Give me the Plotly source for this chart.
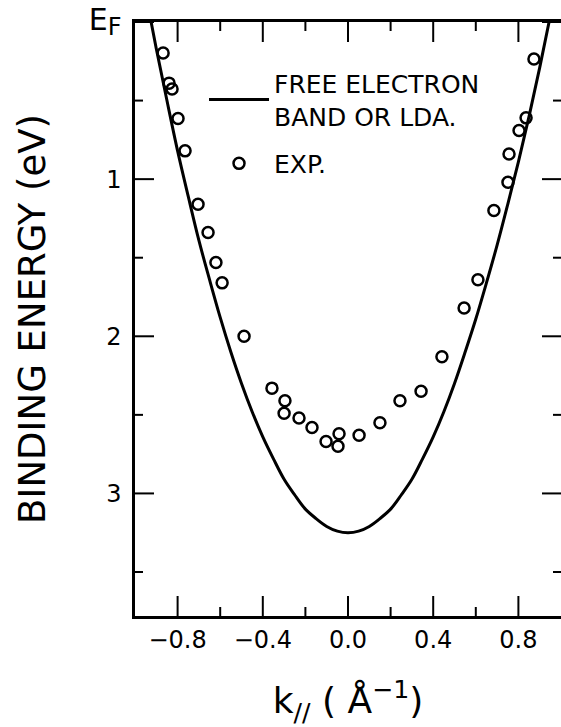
import plotly.graph_objects as go

# Free-electron band
band_k = [-0.95, -0.90, -0.85, -0.80, -0.75, -0.70, -0.65, -0.60, -0.55, -0.50, -0.45, -0.40,
          -0.35, -0.30, -0.25, -0.20, -0.15, -0.10, -0.05, 0.00, 0.05, 0.10, 0.15, 0.20, 0.25,
          0.30, 0.35, 0.40, 0.45, 0.50, 0.55, 0.60, 0.65, 0.70, 0.75, 0.80, 0.85, 0.90, 0.95, 1.00]
band_E = [-0.18, 0.17, 0.50, 0.82, 1.11, 1.39, 1.64, 1.88, 2.10, 2.30, 2.48, 2.64,
          2.78, 2.91, 3.01, 3.10, 3.16, 3.21, 3.24, 3.25, 3.24, 3.21, 3.16, 3.10, 3.01,
          2.91, 2.78, 2.64, 2.48, 2.30, 2.10, 1.89, 1.66, 1.42, 1.16, 0.89, 0.60, 0.29, -0.04, -0.40]

# Experimental points
exp_k = [-0.868, -0.840, -0.826, -0.798, -0.765, -0.704, -0.657, -0.620, -0.591, -0.488,
         -0.357, -0.296, -0.300, -0.230, -0.169, -0.103, -0.042, -0.047,
         0.052, 0.150, 0.244, 0.343, 0.441, 0.545, 0.610, 0.685, 0.751, 0.756, 0.803, 0.836, 0.873]
exp_E = [0.197, 0.389, 0.427, 0.614, 0.820, 1.160, 1.340, 1.530, 1.660, 2.000,
         2.330, 2.410, 2.490, 2.520, 2.580, 2.670, 2.620, 2.700,
         2.630, 2.550, 2.410, 2.350, 2.130, 1.820, 1.640, 1.200, 1.020, 0.840, 0.690, 0.610, 0.236]

x_tickvals = [-0.8, -0.4, 0.0, 0.4, 0.8]
x_ticktext = ["−0.8", "−0.4", "0.0", "0.4", "0.8"]
x_minorvals = [-0.6, -0.2, 0.2, 0.6]
y_tickvals = [0, 1, 2, 3]
y_ticktext = ["<span style='font-size:30px'>E</span><sub><span style='font-size:24px'>F</span></sub>", "1", "2", "3"]
y_minorvals = [0.5, 1.5, 2.5, 3.5]

FONT = "DejaVu Sans"
X_RANGE = [-1, 1]
Y_RANGE = [3.78, 0]
W, H = 561, 727
MARGIN = dict(l=135, r=0, t=22, b=111)

# data units per screen pixel, used for inward tick marks of fixed pixel length
dx_px = (X_RANGE[1] - X_RANGE[0]) / (W - MARGIN["l"] - MARGIN["r"])
dy_px = (Y_RANGE[0] - Y_RANGE[1]) / (H - MARGIN["t"] - MARGIN["b"])

tick_x, tick_y = [], []
for vals, ln in [(x_tickvals, 20), (x_minorvals, 9)]:
    for v in vals:
        tick_x += [v, v, None, v, v, None]
        tick_y += [Y_RANGE[0], Y_RANGE[0] - ln * dy_px, None, Y_RANGE[1], Y_RANGE[1] + ln * dy_px, None]
for vals, ln in [(y_tickvals, 19), (y_minorvals, 8)]:
    for v in vals:
        tick_x += [X_RANGE[0], X_RANGE[0] + ln * dx_px, None, X_RANGE[1], X_RANGE[1] - ln * dx_px, None]
        tick_y += [v, v, None, v, v, None]

fig = go.Figure()
fig.add_trace(go.Scatter(x=tick_x, y=tick_y, mode="lines", line=dict(color="black", width=2),
                         showlegend=False, hoverinfo="skip"))
fig.add_trace(go.Scatter(x=band_k, y=band_E, mode="lines", line=dict(color="black", width=3, shape="spline"),
                         name="FREE ELECTRON<br>BAND OR LDA.", legendgroup="band"))
fig.add_trace(go.Scatter(x=exp_k, y=exp_E, mode="markers",
                         marker=dict(symbol="circle-open", size=11, color="black", line=dict(width=2.5)),
                         name="EXP.", legendgroup="exp"))

fig.update_layout(
    width=W, height=H,
    margin=MARGIN,
    paper_bgcolor="white", plot_bgcolor="white",
    font=dict(family=FONT, color="black"),
    showlegend=True,
    legend=dict(x=0.162, y=0.935, xanchor="left", yanchor="top", bgcolor="rgba(0,0,0,0)",
                font=dict(family=FONT, size=25), itemwidth=60, valign="middle",
                tracegroupgap=12),
    xaxis=dict(range=X_RANGE, showline=True, linecolor="black", linewidth=2.5, mirror=True,
               ticks="", tickvals=x_tickvals, ticktext=x_ticktext, showgrid=False, zeroline=False,
               tickfont=dict(size=24, family=FONT), ticklabelstandoff=0,
               title=dict(text="k<sub>//</sub> ( Å<sup>−1</sup>)", font=dict(size=36, family=FONT), standoff=46)),
    yaxis=dict(range=Y_RANGE, showline=True, linecolor="black", linewidth=2.5, mirror=False,
               ticks="", tickvals=y_tickvals, ticktext=y_ticktext, showgrid=False, zeroline=False,
               tickfont=dict(size=24, family=FONT), ticklabelstandoff=6,
               title=dict(text="BINDING ENERGY (eV)", font=dict(size=37, family=FONT), standoff=32)),
)

fig.write_html("out.html")
